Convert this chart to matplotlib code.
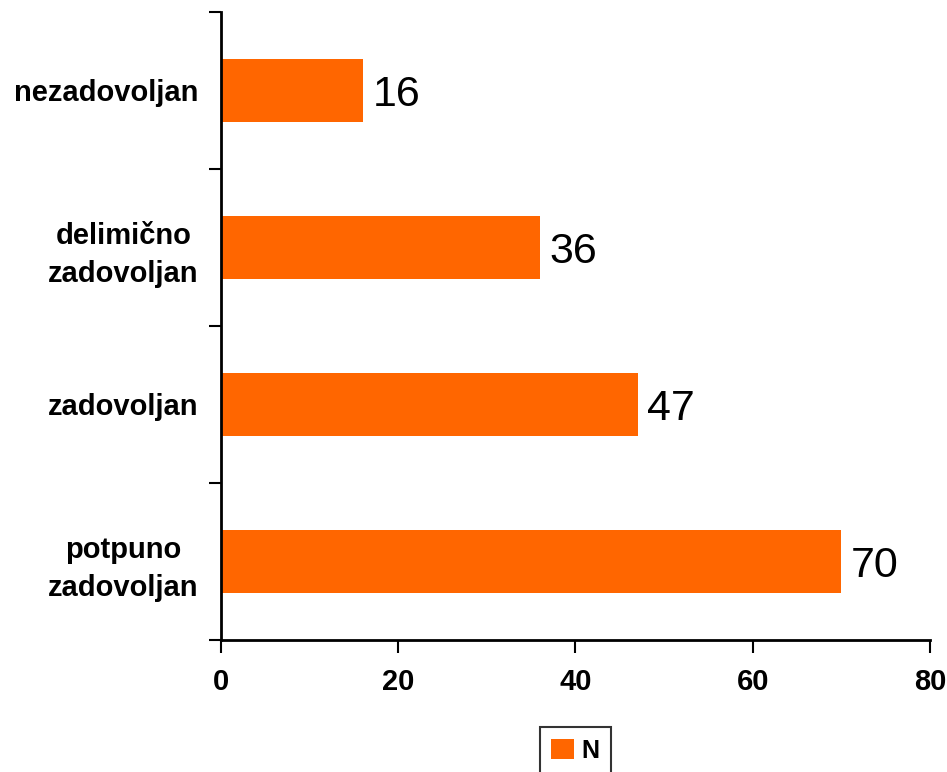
import matplotlib.pyplot as plt
import numpy as np

categories = ["potpuno\nzadovoljan", "zadovoljan", "delimično\nzadovoljan", "nezadovoljan"]
values = [70, 47, 36, 16]
series_name = "N"
x_ticks = [0, 20, 40, 60, 80]

orange = "#FF6600"

plt.rcParams["font.family"] = ["Liberation Sans", "DejaVu Sans"]

fig = plt.figure(figsize=(9.47, 7.72), dpi=100)
ax = fig.add_axes([0.2334, 0.171, 0.7486, 0.8135])

y = np.arange(len(categories))
bars = ax.barh(y, values, height=0.4, color=orange, label=series_name, zorder=2)

for bar, v in zip(bars, values):
    ax.annotate(str(v), (bar.get_width(), bar.get_y() + bar.get_height() / 2),
                xytext=(7, -3), textcoords="offset points",
                va="center", ha="left", fontsize=31)

ax.set_xlim(0, 80)
ax.set_ylim(-0.5, len(categories) - 0.5)
ax.set_xticks(x_ticks)
ax.set_xticklabels([str(t) for t in x_ticks], fontsize=21, fontweight="bold")

# category labels on major ticks, tick marks on the boundaries between them
ax.set_yticks(y)
ax.set_yticklabels(categories, fontsize=21, fontweight="bold", linespacing=1.45)
for lbl in ax.get_yticklabels():
    lbl.set_multialignment("center")
ax.set_yticks(np.arange(-0.5, len(categories), 1.0), minor=True)
ax.tick_params(axis="y", which="major", length=0, pad=16)
ax.tick_params(axis="y", which="minor", length=9, width=1.5, direction="out")
ax.tick_params(axis="x", length=9, width=1.5, direction="out", pad=11)

for side in ["top", "right"]:
    ax.spines[side].set_visible(False)
ax.spines["left"].set_linewidth(2)
ax.spines["bottom"].set_linewidth(2)

leg = ax.legend(loc="upper center", bbox_to_anchor=(0.5, -0.139), frameon=True,
                fancybox=False, edgecolor="black", prop={"size": 18, "weight": "bold"},
                handlelength=0.9, handleheight=0.9, handletextpad=0.3,
                borderpad=0.45, borderaxespad=0)
leg.get_frame().set_linewidth(1.5)

fig.savefig("out.png", dpi=100)
